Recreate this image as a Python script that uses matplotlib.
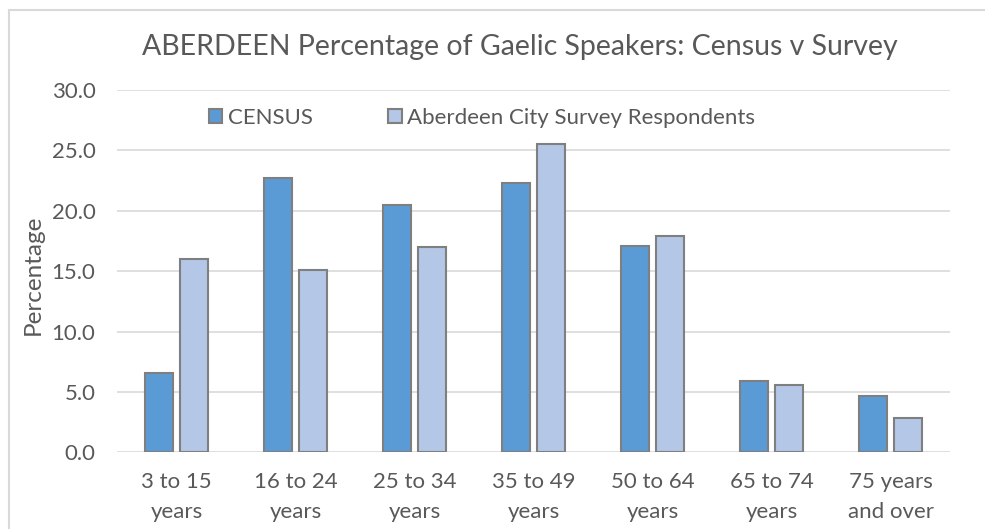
import matplotlib.pyplot as plt
import numpy as np
from matplotlib.patches import Rectangle

# dados
categorias = ['3 to 15\nyears', '16 to 24\nyears', '25 to 34\nyears', '35 to 49\nyears',
              '50 to 64\nyears', '65 to 74\nyears', '75 years\nand over']
census = [6.6, 22.7, 20.5, 22.3, 17.1, 5.9, 4.7]
survey = [16.0, 15.1, 17.0, 25.5, 17.9, 5.6, 2.8]
yticks = [0, 5, 10, 15, 20, 25, 30]

plt.rcParams['font.family'] = ['Lato', 'DejaVu Sans']
cinza = '#595959'

fig = plt.figure(figsize=(9.85, 5.29), dpi=100)
ax = fig.add_axes([117/985, 1 - 452.3/529, (950 - 117)/985, (452.3 - 90)/529])

x = np.arange(len(categorias))
largura = 0.235
desloc = 0.146
ax.bar(x - desloc, census, largura, color='#5B9BD5', edgecolor='#7F7F7F', linewidth=1.5,
       label='CENSUS', zorder=3)
ax.bar(x + desloc, survey, largura, color='#B4C7E7', edgecolor='#7F7F7F', linewidth=1.5,
       label='Aberdeen City Survey Respondents', zorder=3)

ax.set_xlim(-0.5, len(categorias) - 0.5)
ax.set_ylim(0, 30)
ax.set_yticks(yticks)
ax.set_yticklabels([f'{v:.1f}' for v in yticks])
ax.set_xticks(x)
ax.set_xticklabels(categorias, linespacing=1.62)
ax.tick_params(axis='both', length=0, colors=cinza, labelsize=16)
ax.tick_params(axis='x', pad=14)
ax.tick_params(axis='y', pad=15.5)
ax.grid(axis='y', color='#D9D9D9', linewidth=1.2, zorder=0)
for s in ax.spines.values():
    s.set_visible(False)

ax.set_ylabel('Percentage', fontsize=17.5, color=cinza, labelpad=6, y=0.49)

fig.text(520/985, 1 - 47/529, 'ABERDEEN Percentage of Gaelic Speakers: Census v Survey',
         ha='center', va='center', fontsize=20.5, color=cinza)

leg = ax.legend(loc='center', bbox_to_anchor=(482/985, 1 - 118/529),
                bbox_transform=fig.transFigure, ncol=2, frameon=False,
                fontsize=16, handlelength=0.6, handleheight=0.6,
                handletextpad=0.25, columnspacing=3.4)
for t in leg.get_texts():
    t.set_color(cinza)

# moldura do gráfico
fig.patches.append(Rectangle((9/985, -0.1), 1.1, 1 - 10/529 + 0.1, transform=fig.transFigure,
                             fill=False, edgecolor='#D9D9D9', linewidth=1.5))

fig.savefig('out.png', dpi=100)
